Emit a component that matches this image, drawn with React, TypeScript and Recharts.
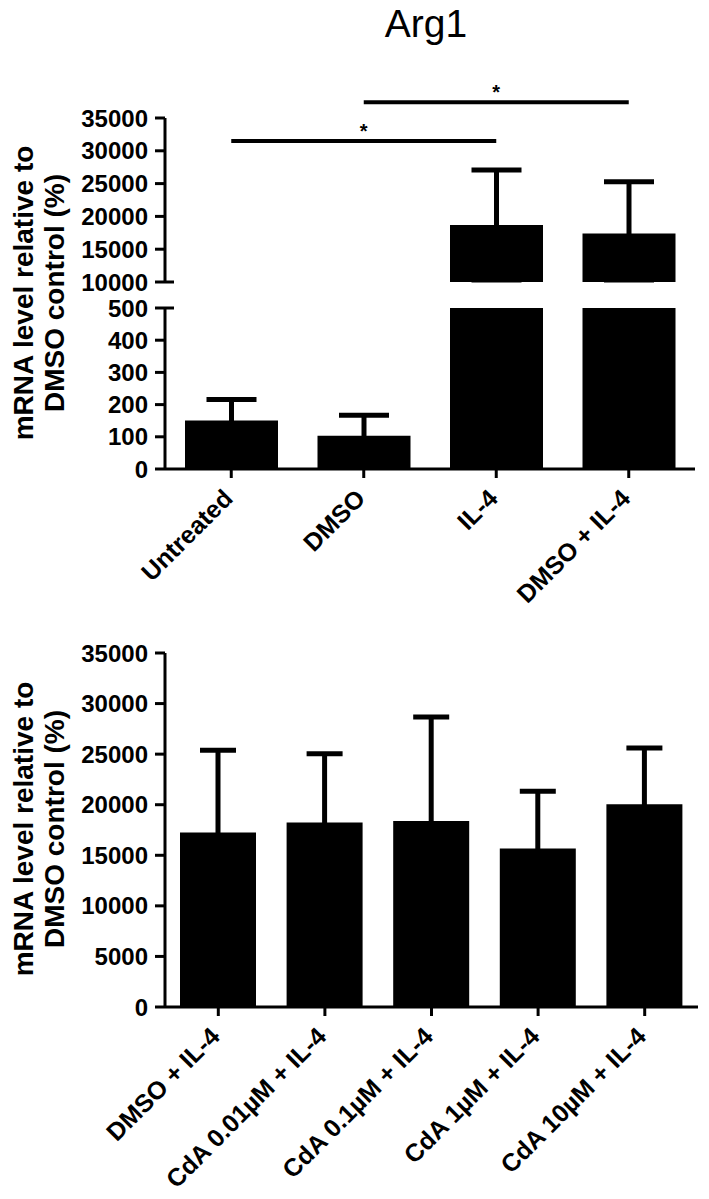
import React from 'react';
import { BarChart, Bar, XAxis, YAxis, ErrorBar, ReferenceLine } from 'recharts';

const FONT = '"Liberation Sans", Arial, sans-serif';

// top panel
const topCategories = ['Untreated', 'DMSO', 'IL-4', 'DMSO + IL-4'];
const topMeans = [151, 103, 18670, 17400];
const topSD = [65, 64, 8410, 7890];
const upperTicks = [10000, 15000, 20000, 25000, 30000, 35000];
const lowerTicks = [0, 100, 200, 300, 400, 500];
const significance: [string, string, number][] = [
  ['Untreated', 'IL-4', 31500],
  ['DMSO', 'DMSO + IL-4', 37400],
];

// bottom panel
const bottomCategories = [
  'DMSO + IL-4',
  'CdA 0.01µM + IL-4',
  'CdA 0.1µM + IL-4',
  'CdA 1µM + IL-4',
  'CdA 10µM + IL-4',
];
const bottomMeans = [17250, 18230, 18390, 15660, 20040];
const bottomSD = [8130, 6820, 10280, 5670, 5570];
const bottomTicks = [0, 5000, 10000, 15000, 20000, 25000, 30000, 35000];

const BREAK_LOW = 500;
const BREAK_HIGH = 10000;

const topData = topCategories.map((name, i) => ({ name, mean: topMeans[i], sd: topSD[i] }));
const bottomData = bottomCategories.map((name, i) => ({ name, mean: bottomMeans[i], sd: bottomSD[i] }));

const pick = (d: any, k: string) => (d[k] !== undefined ? d[k] : d.payload ? d.payload[k] : undefined);

// mean + SD only (the lower whisker is hidden inside the black bar anyway)
const upperErr = (d: any) => [Math.min(pick(d, 'sd'), pick(d, 'mean') * 0.5), pick(d, 'sd')];

const axisStyle = { stroke: '#000', strokeWidth: 3 };

const YTick = (props: any) => {
  const { x, y, payload, stub } = props;
  const axisX = x + 16;
  return (
    <g>
      {stub !== undefined && payload.value === stub && (
        <line x1={axisX} x2={axisX + 9} y1={y} y2={y} stroke="#000" strokeWidth={3} />
      )}
      <text x={x - 1} y={y} dy="0.36em" textAnchor="end" fontFamily={FONT} fontWeight="bold" fontSize={24} fill="#000">
        {payload.value}
      </text>
    </g>
  );
};

const XTick = (props: any) => {
  const { x, y, payload } = props;
  return (
    <g transform={`translate(${x + 3},${y + 20})`}>
      <text textAnchor="end" transform="rotate(-45)" fontFamily={FONT} fontWeight="bold" fontSize={25} fill="#000">
        {payload.value}
      </text>
    </g>
  );
};

const YLabel = ({ cy }: { cy: number }) => (
  <g fontFamily={FONT} fontWeight="bold" fontSize={28} fill="#000">
    <text transform={`translate(23,${cy}) rotate(-90)`} textAnchor="middle" dy="0.36em">
      mRNA level relative to
    </text>
    <text transform={`translate(54,${cy}) rotate(-90)`} textAnchor="middle" dy="0.36em">
      DMSO control (%)
    </text>
  </g>
);

export default function App() {
  return (
    <div style={{ position: 'absolute', left: 0, top: 0, width: 709, height: 1199, background: '#fff' }}>
      <svg width={709} height={1199} style={{ position: 'absolute', left: 0, top: 0 }}>
        <text x={426} y={37} textAnchor="middle" fontFamily={FONT} fontSize={39} fill="#000">
          Arg1
        </text>
        <YLabel cy={293} />
        <YLabel cy={829} />
      </svg>

      {/* top panel, upper segment */}
      <div style={{ position: 'absolute', left: 0, top: 60 }}>
        <BarChart width={709} height={236} data={topData} margin={{ top: 58, right: 14, bottom: 14, left: 0 }} barSize={93}>
          <XAxis dataKey="name" hide />
          <YAxis
            type="number"
            domain={[BREAK_HIGH, 35000]}
            ticks={upperTicks}
            interval={0}
            allowDataOverflow
            width={165}
            tickSize={10}
            tickMargin={6}
            tick={<YTick stub={BREAK_HIGH} />}
            tickLine={axisStyle}
            axisLine={axisStyle}
          />
          <Bar
            dataKey={(d: any) => (d.mean >= BREAK_HIGH ? d.mean : null)}
            fill="#000"
            isAnimationActive={false}
          >
            <ErrorBar
              dataKey={(d: any) => (pick(d, 'mean') >= BREAK_HIGH ? [pick(d, 'mean') - BREAK_HIGH - 300 > 0 ? Math.min(pick(d, 'sd'), pick(d, 'mean') - BREAK_HIGH - 300) : 0, pick(d, 'sd')] : null)}
              width={25}
              strokeWidth={5}
              stroke="#000"
              direction="y"
              isAnimationActive={false}
            />
          </Bar>
          {significance.map(([a, b, y]) => (
            <ReferenceLine
              key={a + b}
              segment={[{ x: a, y }, { x: b, y }]}
              stroke="#000"
              strokeWidth={4}
              ifOverflow="visible"
              label={{ value: '*', position: 'top', offset: 3, fontSize: 20, fontWeight: 'bold', fill: '#000', fontFamily: FONT }}
            />
          ))}
        </BarChart>
      </div>

      {/* top panel, lower segment */}
      <div style={{ position: 'absolute', left: 0, top: 290 }}>
        <BarChart width={709} height={359} data={topData} margin={{ top: 18, right: 14, bottom: 0, left: 0 }} barSize={93}>
          <XAxis
            dataKey="name"
            height={180}
            interval={0}
            tickSize={9}
            tickMargin={2}
            tick={<XTick />}
            tickLine={axisStyle}
            axisLine={axisStyle}
          />
          <YAxis
            type="number"
            domain={[0, BREAK_LOW]}
            ticks={lowerTicks}
            interval={0}
            allowDataOverflow
            width={165}
            tickSize={10}
            tickMargin={6}
            tick={<YTick stub={BREAK_LOW} />}
            tickLine={axisStyle}
            axisLine={axisStyle}
          />
          <Bar dataKey="mean" fill="#000" isAnimationActive={false}>
            <ErrorBar
              dataKey={(d: any) => (pick(d, 'mean') < BREAK_LOW ? upperErr(d) : null)}
              width={25}
              strokeWidth={5}
              stroke="#000"
              direction="y"
              isAnimationActive={false}
            />
          </Bar>
        </BarChart>
      </div>

      {/* bottom panel */}
      <div style={{ position: 'absolute', left: 0, top: 630 }}>
        <BarChart width={709} height={567} data={bottomData} margin={{ top: 23, right: 11, bottom: 0, left: 0 }} barSize={76}>
          <XAxis
            dataKey="name"
            height={190}
            interval={0}
            tickSize={9}
            tickMargin={2}
            tick={<XTick />}
            tickLine={axisStyle}
            axisLine={axisStyle}
          />
          <YAxis
            type="number"
            domain={[0, 35000]}
            ticks={bottomTicks}
            interval={0}
            width={165}
            tickSize={10}
            tickMargin={6}
            tick={<YTick />}
            tickLine={axisStyle}
            axisLine={axisStyle}
          />
          <Bar dataKey="mean" fill="#000" isAnimationActive={false}>
            <ErrorBar
              dataKey={upperErr}
              width={18}
              strokeWidth={5}
              stroke="#000"
              direction="y"
              isAnimationActive={false}
            />
          </Bar>
        </BarChart>
      </div>
    </div>
  );
}
